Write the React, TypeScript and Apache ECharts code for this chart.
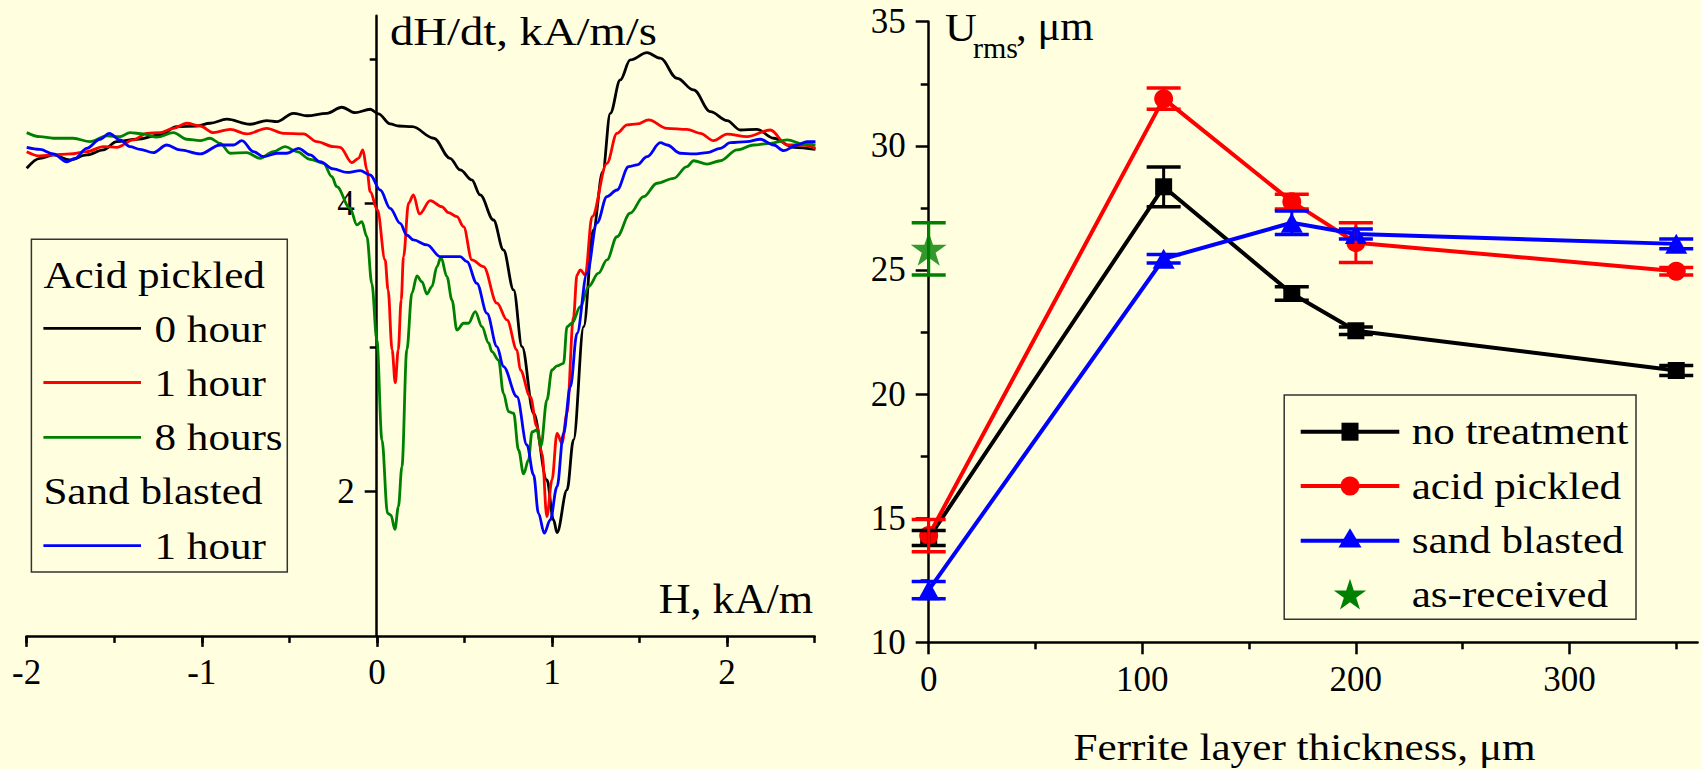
import { useEffect, useRef } from 'react';
import * as echarts from 'echarts';

const BG = '#FFFFE0';
const FONT = 'Liberation Serif';

// ---- Left panel: dH/dt vs H curves ----
const acid0Hour: [number, number][] = [
  [-2.0, 4.243], [-1.924, 4.312], [-1.848, 4.335], [-1.753, 4.3], [-1.657, 4.335], [-1.562, 4.37],
  [-1.486, 4.427], [-1.371, 4.444], [-1.238, 4.474], [-1.143, 4.531], [-1.029, 4.536], [-0.953, 4.555],
  [-0.857, 4.583], [-0.724, 4.548], [-0.629, 4.573], [-0.571, 4.566], [-0.477, 4.624], [-0.4, 4.607],
  [-0.286, 4.624], [-0.2, 4.666], [-0.124, 4.628], [-0.038, 4.652], [0.009, 4.62], [0.076, 4.55],
  [0.124, 4.536], [0.202, 4.531], [0.325, 4.451], [0.418, 4.312], [0.476, 4.231], [0.542, 4.162],
  [0.59, 4.058], [0.666, 3.884], [0.723, 3.676], [0.781, 3.399], [0.829, 3.006], [0.895, 2.544],
  [0.971, 2.081], [1.009, 1.804], [1.029, 1.716], [1.086, 2.012], [1.123, 2.359], [1.181, 3.144],
  [1.236, 3.813], [1.29, 4.22], [1.333, 4.624], [1.39, 4.855], [1.447, 4.994], [1.543, 5.044],
  [1.619, 5.006], [1.714, 4.867], [1.809, 4.786], [1.905, 4.635], [2.0, 4.573], [2.076, 4.508],
  [2.171, 4.513], [2.266, 4.451], [2.381, 4.388], [2.505, 4.374],
];
const acid1Hour: [number, number][] = [
  [-2.0, 4.358], [-1.924, 4.328], [-1.848, 4.335], [-1.753, 4.342], [-1.657, 4.358], [-1.562, 4.393],
  [-1.486, 4.388], [-1.391, 4.439], [-1.314, 4.485], [-1.238, 4.49], [-1.162, 4.52], [-1.086, 4.555],
  [-1.01, 4.536], [-0.934, 4.49], [-0.838, 4.513], [-0.743, 4.481], [-0.629, 4.52], [-0.534, 4.485],
  [-0.419, 4.481], [-0.343, 4.427], [-0.248, 4.393], [-0.21, 4.388], [-0.143, 4.282], [-0.105, 4.312],
  [-0.08, 4.37], [-0.057, 4.231], [-0.038, 4.08], [0.003, 3.954], [0.047, 3.607], [0.064, 3.4],
  [0.087, 2.983], [0.105, 2.756], [0.122, 2.983], [0.139, 3.33], [0.152, 3.63], [0.181, 4.0],
  [0.209, 4.058], [0.243, 3.926], [0.305, 4.018], [0.371, 3.976], [0.409, 3.935], [0.457, 3.907],
  [0.495, 3.838], [0.543, 3.607], [0.609, 3.56], [0.686, 3.307], [0.743, 3.191], [0.8, 2.983],
  [0.819, 2.844], [0.876, 2.659], [0.914, 2.451], [0.943, 2.266], [0.971, 1.827], [1.0, 2.081],
  [1.029, 2.405], [1.057, 2.336], [1.086, 2.544], [1.123, 3.214], [1.143, 3.503], [1.162, 3.538],
  [1.19, 3.503], [1.229, 3.907], [1.314, 4.277], [1.371, 4.485], [1.429, 4.543], [1.486, 4.55],
  [1.552, 4.578], [1.657, 4.52], [1.771, 4.513], [1.847, 4.485], [1.923, 4.434], [2.0, 4.48],
  [2.114, 4.462], [2.247, 4.508], [2.343, 4.404], [2.438, 4.404], [2.505, 4.381],
];
const acid8Hours: [number, number][] = [
  [-2.0, 4.49], [-1.924, 4.462], [-1.848, 4.451], [-1.734, 4.451], [-1.638, 4.427], [-1.543, 4.467],
  [-1.467, 4.462], [-1.41, 4.49], [-1.334, 4.481], [-1.257, 4.458], [-1.162, 4.49], [-1.086, 4.444],
  [-1.01, 4.434], [-0.953, 4.451], [-0.895, 4.416], [-0.838, 4.347], [-0.743, 4.351], [-0.667, 4.312],
  [-0.591, 4.358], [-0.524, 4.393], [-0.457, 4.358], [-0.381, 4.305], [-0.305, 4.277], [-0.257, 4.184],
  [-0.229, 4.115], [-0.153, 3.965], [-0.114, 3.85], [-0.086, 3.872], [-0.057, 3.768], [-0.029, 3.445],
  [0.0, 3.052], [0.029, 2.359], [0.061, 1.85], [0.08, 1.838], [0.103, 1.739], [0.123, 1.896],
  [0.143, 2.173], [0.171, 2.983], [0.2, 3.376], [0.229, 3.496], [0.257, 3.456], [0.286, 3.371],
  [0.314, 3.422], [0.343, 3.56], [0.366, 3.626], [0.4, 3.491], [0.429, 3.329], [0.457, 3.121],
  [0.495, 3.168], [0.523, 3.168], [0.562, 3.248], [0.6, 3.144], [0.638, 3.031], [0.657, 2.971],
  [0.695, 2.913], [0.723, 2.682], [0.752, 2.555], [0.781, 2.544], [0.809, 2.289], [0.838, 2.123],
  [0.866, 2.22], [0.886, 2.414], [0.914, 2.428], [0.937, 2.317], [0.971, 2.636], [1.0, 2.844],
  [1.029, 2.872], [1.066, 2.89], [1.086, 3.144], [1.114, 3.168], [1.162, 3.283], [1.209, 3.422],
  [1.266, 3.515], [1.314, 3.607], [1.371, 3.768], [1.447, 3.931], [1.523, 4.046], [1.6, 4.139],
  [1.695, 4.173], [1.771, 4.254], [1.809, 4.295], [1.886, 4.272], [1.962, 4.295], [2.057, 4.37],
  [2.152, 4.404], [2.247, 4.416], [2.343, 4.439], [2.438, 4.411], [2.505, 4.404],
];
const sand1Hour: [number, number][] = [
  [-2.0, 4.388], [-1.924, 4.374], [-1.848, 4.342], [-1.771, 4.288], [-1.724, 4.312], [-1.657, 4.381],
  [-1.581, 4.444], [-1.528, 4.485], [-1.467, 4.439], [-1.41, 4.393], [-1.353, 4.374], [-1.277, 4.351],
  [-1.2, 4.404], [-1.124, 4.37], [-1.01, 4.342], [-0.895, 4.404], [-0.819, 4.404], [-0.771, 4.434],
  [-0.705, 4.358], [-0.648, 4.323], [-0.571, 4.347], [-0.514, 4.347], [-0.448, 4.381], [-0.381, 4.335],
  [-0.324, 4.288], [-0.248, 4.238], [-0.171, 4.214], [-0.095, 4.226], [-0.038, 4.196], [0.019, 4.092],
  [0.076, 3.965], [0.133, 3.861], [0.171, 3.78], [0.209, 3.746], [0.286, 3.711], [0.362, 3.63],
  [0.476, 3.63], [0.514, 3.595], [0.571, 3.445], [0.629, 3.237], [0.686, 3.006], [0.723, 2.867],
  [0.8, 2.659], [0.857, 2.324], [0.895, 2.116], [0.923, 1.85], [0.956, 1.712], [0.99, 1.804],
  [1.029, 2.035], [1.066, 2.405], [1.105, 2.728], [1.143, 3.098], [1.2, 3.514], [1.257, 3.863],
  [1.314, 4.046], [1.371, 4.092], [1.438, 4.254], [1.486, 4.266], [1.543, 4.323], [1.619, 4.42],
  [1.657, 4.404], [1.733, 4.347], [1.809, 4.342], [1.886, 4.351], [1.962, 4.381], [2.019, 4.42],
  [2.114, 4.427], [2.19, 4.444], [2.266, 4.404], [2.323, 4.365], [2.4, 4.404], [2.457, 4.427],
  [2.505, 4.427],
];
const hMajorTicks = [-2, -1, 0, 1, 2];
const hMinorTicks = [-2, -1.5, -1, -0.5, 0, 0.5, 1, 1.5, 2, 2.5];
const dMajorTicks = [2, 4];
const dMinorTicks = [3, 5];

// ---- Right panel: U_rms vs ferrite layer thickness ----
const thickness = [0, 110, 170, 200, 350];
const noTreatment = [14.2, 28.35, 24.05, 22.55, 20.95];
const noTreatmentErr = [0.3, 0.8, 0.27, 0.15, 0.2];
const acidPickled = [14.3, 31.9, 27.75, 26.1, 24.95];
const acidPickledErr = [0.65, 0.43, 0.3, 0.8, 0.15];
const sandBlasted = [12.1, 25.45, 26.9, 26.45, 26.05];
const sandBlastedErr = [0.35, 0.17, 0.47, 0.2, 0.2];
const asReceivedX = [0];
const asReceived = [25.85];
const asReceivedErr = [1.05];
const tMajorTicks = [0, 100, 200, 300];
const tMinorTicks = [50, 150, 250, 350];
const uMinorTicks = [12.5, 17.5, 22.5, 27.5, 32.5];

const STAR = 'path://M50,0L61.8,35.1L98.9,35.1L68.8,57L80.2,92.1L50,70.3L19.8,92.1L31.2,57L1.1,35.1L38.2,35.1Z';

const axisLine = { color: '#000', width: 2.5 };
const labelStyle = { color: '#000', fontFamily: FONT, fontSize: 35 };

// left grid geometry: H = 0 lies 350 px right of the grid's left edge
const LEFT_Y_OFFSET = -350;

function errorBars(color: string, xs: number[], ys: number[], errs: number[], z: number) {
  return {
    type: 'custom',
    xAxisIndex: 2,
    yAxisIndex: 2,
    clip: false,
    z,
    encode: { x: 0, y: 1 },
    data: xs.map((x, i) => [x, ys[i], errs[i]]),
    renderItem: (_params: any, api: any) => {
      const x = api.value(0);
      const y = api.value(1);
      const e = api.value(2);
      const top = api.coord([x, y + e]);
      const bot = api.coord([x, y - e]);
      const hw = 17;
      const st = { stroke: color, lineWidth: 3.5 };
      return {
        type: 'group',
        children: [
          { type: 'line', shape: { x1: top[0], y1: top[1], x2: bot[0], y2: bot[1] }, style: { stroke: color, lineWidth: 3 } },
          { type: 'line', shape: { x1: top[0] - hw, y1: top[1], x2: top[0] + hw, y2: top[1] }, style: st },
          { type: 'line', shape: { x1: bot[0] - hw, y1: bot[1], x2: bot[0] + hw, y2: bot[1] }, style: st },
        ],
      };
    },
  };
}

function txt(text: string, x: number, y: number, fontSize: number, scaleX: number, align = 'left') {
  return {
    type: 'text',
    x,
    y,
    scaleX,
    style: { text, fill: '#000', fontFamily: FONT, fontSize, align, verticalAlign: 'middle' },
    z: 10,
  };
}

function starPoints(cx: number, cy: number, R: number) {
  const pts: number[][] = [];
  for (let k = 0; k < 10; k++) {
    const a = (-90 + k * 36) * Math.PI / 180;
    const r = k % 2 === 0 ? R : R * 0.382;
    pts.push([cx + r * Math.cos(a), cy + r * Math.sin(a)]);
  }
  return pts;
}

function leftCurve(data: [number, number][], color: string) {
  return {
    type: 'line',
    xAxisIndex: 0,
    yAxisIndex: 0,
    data,
    symbol: 'none',
    showSymbol: false,
    smooth: 0.35,
    smoothMonotone: 'x',
    lineStyle: { color, width: 2.8 },
    z: 3,
  };
}

function rightLine(ys: number[], color: string, symbol: string, symbolSize: any) {
  return {
    type: 'line',
    xAxisIndex: 2,
    yAxisIndex: 2,
    data: thickness.map((x, i) => [x, ys[i]]),
    symbol,
    symbolSize,
    clip: false,
    lineStyle: { color, width: 4 },
    itemStyle: { color },
    z: 3,
  };
}

export default function App() {
  const ref = useRef<HTMLDivElement>(null);
  useEffect(() => {
    document.body.style.margin = '0';
    const chart = echarts.init(ref.current!, null, { renderer: 'svg' });
    const legL = { x0: 43.4, x1: 141, tx: 154.5 };
    const legR = { x0: 1300.7, x1: 1399.3, mx: 1350, tx: 1411.7 };
    const rowsR = [431.7, 486, 540.7, 594.7];
    const option: any = {
      animation: false,
      backgroundColor: BG,
      grid: [
        { left: 26.7, right: 886.4, top: 15.8, bottom: 133.1, containLabel: false, outerBoundsMode: 'none' },
        { left: 928.7, right: 3.4, top: 21.7, bottom: 126.7, containLabel: false, outerBoundsMode: 'none' },
      ],
      xAxis: [
        {
          gridIndex: 0, type: 'value', min: -2, max: 2.5, interval: 1, position: 'bottom',
          axisLine: { show: true, onZero: false, lineStyle: axisLine },
          axisTick: { show: true, customValues: hMajorTicks, length: 11, lineStyle: axisLine },
          axisLabel: { ...labelStyle, customValues: hMajorTicks, margin: 19, formatter: (v: number) => String(v) },
          splitLine: { show: false },
        },
        {
          gridIndex: 0, type: 'value', min: -2, max: 2.5, interval: 0.5, position: 'bottom',
          axisLine: { show: false, onZero: false },
          axisTick: { show: true, customValues: hMinorTicks, length: 7, lineStyle: axisLine },
          axisLabel: { show: false },
          splitLine: { show: false },
        },
        {
          gridIndex: 1, type: 'value', min: 0, max: 360, interval: 100, position: 'bottom',
          axisLine: { show: true, onZero: false, lineStyle: axisLine },
          axisTick: { show: true, customValues: tMajorTicks, length: 12, lineStyle: axisLine },
          axisLabel: { ...labelStyle, customValues: tMajorTicks, margin: 20 },
          splitLine: { show: false },
        },
        {
          gridIndex: 1, type: 'value', min: 0, max: 360, interval: 50, position: 'bottom',
          axisLine: { show: false, onZero: false },
          axisTick: { show: true, customValues: tMinorTicks, length: 7, lineStyle: axisLine },
          axisLabel: { show: false },
          splitLine: { show: false },
        },
      ],
      yAxis: [
        {
          gridIndex: 0, type: 'value', min: 1, max: 5.3, position: 'left', offset: LEFT_Y_OFFSET,
          axisLine: { show: true, onZero: false, lineStyle: axisLine },
          axisTick: { show: true, customValues: dMajorTicks, length: 12, lineStyle: axisLine },
          axisLabel: { ...labelStyle, customValues: dMajorTicks, margin: 22 },
          splitLine: { show: false },
        },
        {
          gridIndex: 0, type: 'value', min: 1, max: 5.3, position: 'left', offset: LEFT_Y_OFFSET,
          axisLine: { show: false, onZero: false },
          axisTick: { show: true, customValues: dMinorTicks, length: 7, lineStyle: axisLine },
          axisLabel: { show: false },
          splitLine: { show: false },
        },
        {
          gridIndex: 1, type: 'value', min: 10, max: 35, interval: 5, position: 'left',
          axisLine: { show: true, onZero: false, lineStyle: axisLine },
          axisTick: { show: true, length: 13, lineStyle: axisLine },
          axisLabel: { ...labelStyle, margin: 23 },
          splitLine: { show: false },
        },
        {
          gridIndex: 1, type: 'value', min: 10, max: 35, position: 'left',
          axisLine: { show: false, onZero: false },
          axisTick: { show: true, customValues: uMinorTicks, length: 8, lineStyle: axisLine },
          axisLabel: { show: false },
          splitLine: { show: false },
        },
      ],
      series: [
        leftCurve(acid0Hour, '#000000'),
        leftCurve(acid1Hour, '#FF0000'),
        leftCurve(acid8Hours, '#008000'),
        leftCurve(sand1Hour, '#0000FF'),
        rightLine(noTreatment, '#000000', 'rect', 17),
        errorBars('#000000', thickness, noTreatment, noTreatmentErr, 4),
        rightLine(acidPickled, '#FF0000', 'circle', 19),
        errorBars('#FF0000', thickness, acidPickled, acidPickledErr, 4),
        rightLine(sandBlasted, '#0000FF', 'triangle', [22, 20]),
        errorBars('#0000FF', thickness, sandBlasted, sandBlastedErr, 4),
        {
          type: 'scatter', xAxisIndex: 2, yAxisIndex: 2, clip: false, z: 5,
          data: asReceivedX.map((x, i) => [x, asReceived[i]]),
          symbol: STAR, symbolSize: 36, symbolKeepAspect: true,
          itemStyle: { color: '#008000' },
        },
        errorBars('#008000', asReceivedX, asReceived, asReceivedErr, 5),
      ],
      graphic: [
        // axis titles
        txt('dH/dt, kA/m/s', 390, 31.2, 41, 1.138),
        txt('H, kA/m', 813, 598.5, 42, 1.05, 'right'),
        txt('U', 945, 26.5, 41, 1.07),
        txt('rms', 973, 47.2, 30, 1.0),
        txt(', \u03bcm', 1016, 26.5, 40, 1.07),
        txt('Ferrite layer thickness, \u03bcm', 1304.6, 747, 38, 1.137, 'center'),
        // left legend
        { type: 'rect', shape: { x: 31.4, y: 239.3, width: 255.9, height: 332.7 }, style: { fill: BG, stroke: '#333', lineWidth: 1.5 }, z: 9 },
        txt('Acid pickled', legL.x0, 275, 38, 1.135),
        { type: 'line', shape: { x1: legL.x0, y1: 328.3, x2: legL.x1, y2: 328.3 }, style: { stroke: '#000000', lineWidth: 2.8 }, z: 10 },
        txt('0 hour', legL.tx, 329, 38, 1.135),
        { type: 'line', shape: { x1: legL.x0, y1: 382.5, x2: legL.x1, y2: 382.5 }, style: { stroke: '#FF0000', lineWidth: 2.8 }, z: 10 },
        txt('1 hour', legL.tx, 383, 38, 1.135),
        { type: 'line', shape: { x1: legL.x0, y1: 437.3, x2: legL.x1, y2: 437.3 }, style: { stroke: '#008000', lineWidth: 2.8 }, z: 10 },
        txt('8 hours', legL.tx, 437.5, 38, 1.135),
        txt('Sand blasted', legL.x0, 491, 38, 1.135),
        { type: 'line', shape: { x1: legL.x0, y1: 545.7, x2: legL.x1, y2: 545.7 }, style: { stroke: '#0000FF', lineWidth: 2.8 }, z: 10 },
        txt('1 hour', legL.tx, 546, 38, 1.135),
        // right legend
        { type: 'rect', shape: { x: 1284.2, y: 395, width: 351.8, height: 224.3 }, style: { fill: BG, stroke: '#333', lineWidth: 1.5 }, z: 9 },
        { type: 'line', shape: { x1: legR.x0, y1: rowsR[0], x2: legR.x1, y2: rowsR[0] }, style: { stroke: '#000000', lineWidth: 4 }, z: 10 },
        { type: 'rect', shape: { x: legR.mx - 8.5, y: rowsR[0] - 9, width: 17, height: 18 }, style: { fill: '#000000' }, z: 11 },
        txt('no treatment', legR.tx, rowsR[0], 38, 1.135),
        { type: 'line', shape: { x1: legR.x0, y1: rowsR[1], x2: legR.x1, y2: rowsR[1] }, style: { stroke: '#FF0000', lineWidth: 4 }, z: 10 },
        { type: 'circle', shape: { cx: legR.mx, cy: rowsR[1], r: 9.5 }, style: { fill: '#FF0000' }, z: 11 },
        txt('acid pickled', legR.tx, rowsR[1], 38, 1.135),
        { type: 'line', shape: { x1: legR.x0, y1: rowsR[2], x2: legR.x1, y2: rowsR[2] }, style: { stroke: '#0000FF', lineWidth: 4 }, z: 10 },
        { type: 'polygon', shape: { points: [[legR.mx, rowsR[2] - 12.5], [legR.mx - 11.5, rowsR[2] + 6.8], [legR.mx + 11.5, rowsR[2] + 6.8]] }, style: { fill: '#0000FF' }, z: 11 },
        txt('sand blasted', legR.tx, rowsR[2], 38, 1.135),
        { type: 'polygon', shape: { points: starPoints(legR.mx, rowsR[3] + 1, 17) }, style: { fill: '#008000' }, z: 11 },
        txt('as-received', legR.tx, rowsR[3], 38, 1.135),
      ],
    };
    chart.setOption(option);
    return () => chart.dispose();
  }, []);
  return <div ref={ref} style={{ position: 'fixed', left: 0, top: 0, width: 1701, height: 769 }} />;
}
